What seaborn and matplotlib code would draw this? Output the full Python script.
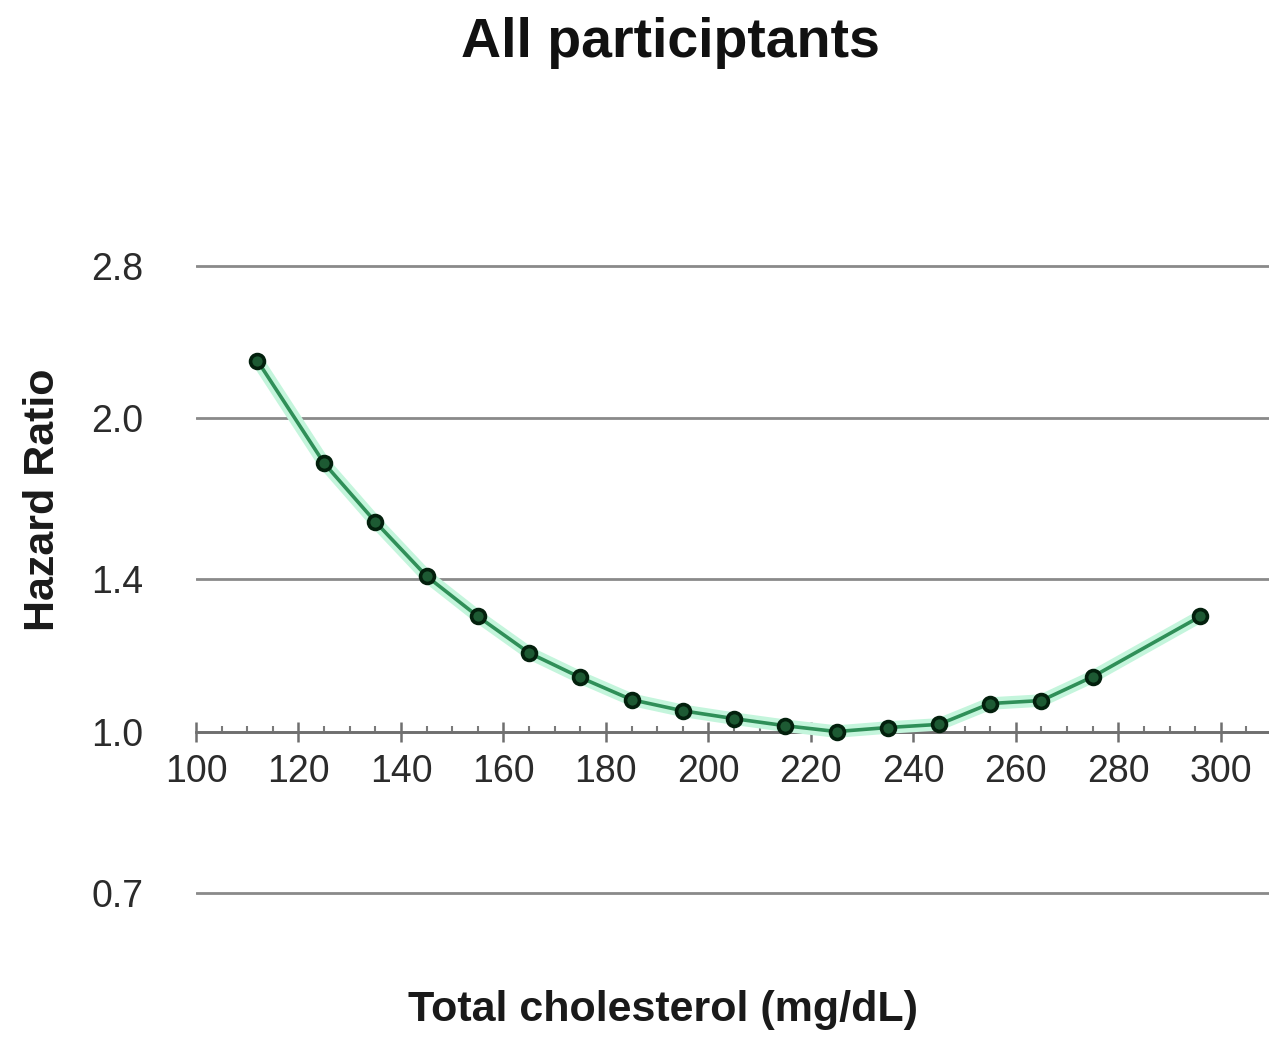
import matplotlib
matplotlib.use("Agg")
import matplotlib.pyplot as plt
from matplotlib.ticker import MultipleLocator, NullLocator, FixedLocator
import seaborn as sns
import pandas as pd

# ---- data ----
cholesterol = [112, 125, 135, 145, 155, 165, 175, 185, 195, 205, 215, 225, 235, 245, 255, 265, 275, 296]
hazard_ratio = [2.27, 1.81, 1.59, 1.41, 1.29, 1.19, 1.127, 1.073, 1.047, 1.029, 1.013, 1.00,
                1.009, 1.016, 1.064, 1.071, 1.129, 1.29]
y_ticks = [0.7, 1.0, 1.4, 2.0, 2.8]
y_tick_labels = ["0.7", "1.0", "1.4", "2.0", "2.8"]
x_ticks = [100, 120, 140, 160, 180, 200, 220, 240, 260, 280, 300]
x_tick_labels = [str(v) for v in x_ticks]
title_text = "All participtants"
x_label = "Total cholesterol (mg/dL)"
y_label = "Hazard Ratio"

df = pd.DataFrame({"chol": cholesterol, "hr": hazard_ratio})

sns.set_theme(style="white")
plt.rcParams["font.family"] = ["Liberation Sans", "DejaVu Sans"]

W, H = 1269, 1038
fig = plt.figure(figsize=(W / 100, H / 100), dpi=100)
ax_left, ax_right, ax_top, ax_bottom = 196, 1269, 250, 906
ax = fig.add_axes([ax_left / W, (H - ax_bottom) / H, (ax_right - ax_left) / W, (ax_bottom - ax_top) / H])

ax.set_yscale("log")
ax.set_ylim(0.68, 2.9)
ax.set_xlim(100, 309.4)

# glow under the line
sns.lineplot(data=df, x="chol", y="hr", ax=ax, color="#c4f5dc", linewidth=9,
             solid_capstyle="round", zorder=3, clip_on=False)
# main line with markers
sns.lineplot(data=df, x="chol", y="hr", ax=ax, color="#2f8f58", linewidth=2.6,
             marker="o", markersize=10, markerfacecolor="#1d5a33",
             markeredgecolor="#03200d", markeredgewidth=2.6, zorder=5, clip_on=False)

# spines
for s in ["top", "right", "left"]:
    ax.spines[s].set_visible(False)
ax.spines["bottom"].set_position(("data", 1.0))
ax.spines["bottom"].set_color("#6f6f6f")
ax.spines["bottom"].set_linewidth(2.0)
ax.spines["bottom"].set_zorder(2)

# y ticks and grid
ax.yaxis.set_major_locator(FixedLocator(y_ticks))
ax.yaxis.set_minor_locator(NullLocator())
ax.set_yticks(y_ticks)
ax.set_yticklabels(y_tick_labels)
ax.tick_params(axis="y", which="both", left=False, length=0, pad=38, labelsize=27, labelcolor="#2b2b2b")
ax.yaxis.grid(True, color="#8a8a8a", linewidth=2.0)
ax.xaxis.grid(False)
ax.set_axisbelow(True)

# x ticks
ax.set_xticks(x_ticks)
ax.set_xticklabels(x_tick_labels)
ax.xaxis.set_minor_locator(MultipleLocator(5))
ax.tick_params(axis="x", which="major", bottom=True, direction="inout", length=14, width=1.8,
               color="#6f6f6f", pad=9.5, labelsize=27, labelcolor="#2b2b2b")
ax.tick_params(axis="x", which="minor", bottom=True, direction="in", length=4.5, width=1.5,
               color="#7a7a7a")

# labels
ax.set_xlabel(x_label, fontsize=31, fontweight="bold", color="#1a1a1a")
ax.xaxis.set_label_coords((663 - ax_left) / (ax_right - ax_left), (ax_bottom - 990) / (ax_bottom - ax_top))
ax.set_ylabel(y_label, fontsize=31, fontweight="bold", color="#1a1a1a")
ax.yaxis.set_label_coords((43 - ax_left) / (ax_right - ax_left), (ax_bottom - 500) / (ax_bottom - ax_top))
ax.yaxis.label.set_verticalalignment("center")

fig.text(670 / W, 1 - 57 / H, title_text, ha="center", va="baseline",
         fontsize=40, fontweight="bold", color="#111111")

fig.savefig("out.png", dpi=100, facecolor="white")
